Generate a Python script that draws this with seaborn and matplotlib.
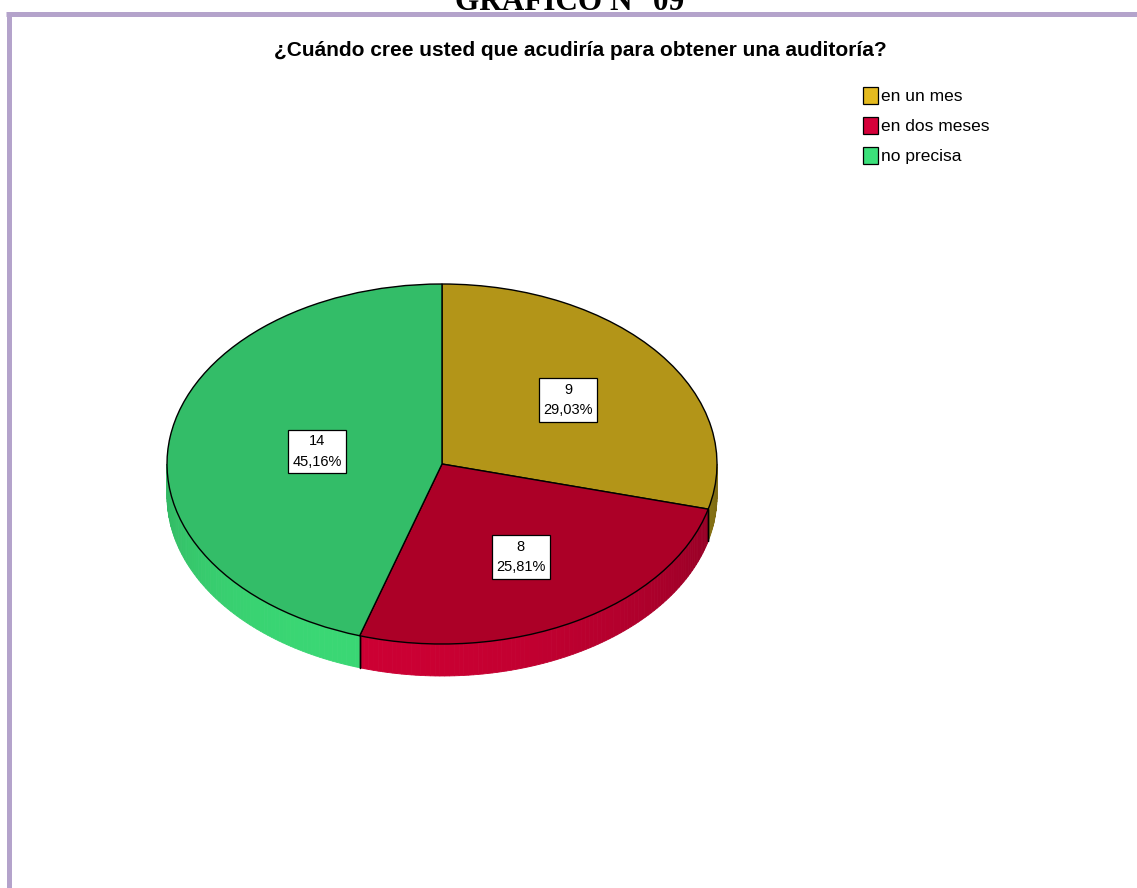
import numpy as np
import matplotlib
matplotlib.use('Agg')
import matplotlib.pyplot as plt
from matplotlib.patches import Patch
import seaborn as sns

# datos del grafico
categorias = ['en un mes', 'en dos meses', 'no precisa']
frecuencias = [9, 8, 14]
porcentajes = ['29,03%', '25,81%', '45,16%']
titulo = '¿Cuándo cree usted que acudiría para obtener una auditoría?'
encabezado = 'GRÁFICO N° 09'

# colores: cara superior, lateral (3D) y leyenda
color_sup = ['#B39518', '#AC0027', '#33BD68']
color_lado = ['#B89C1C', '#CC0033', '#3AD774']
color_leyenda = ['#E4BA1F', '#D5003A', '#3BE07A']
dist_etiqueta = [0.58, 0.59, 0.46]

sns.set_theme(style='white')
plt.rcParams['font.family'] = ['Liberation Sans Narrow', 'Liberation Sans', 'DejaVu Sans']
plt.rcParams['text.color'] = 'black'

W, H = 1137, 888
cx, cy, rx, ry, grosor = 442, 464, 275, 180, 32  # en pixeles

fig = plt.figure(figsize=(W / 100, H / 100), dpi=100)
ax = fig.add_axes([0, 0, 1, 1])

# cara superior
cunas, _ = ax.pie(frecuencias, colors=color_sup, startangle=90, counterclock=False,
                  radius=1, center=(0, 0),
                  wedgeprops=dict(edgecolor='black', linewidth=1.0, zorder=3))

# lateral del pastel (solo la mitad inferior es visible)
t = grosor / ry
total = sum(frecuencias)
fin = 90.0
for i, n in enumerate(frecuencias):
    ini = fin - n / total * 360
    a0, a1 = max(ini, -180), min(fin, 0)
    if a1 > a0:
        angs = np.linspace(a0, a1, int(a1 - a0) + 2)
        base = np.array(matplotlib.colors.to_rgb(color_lado[i]))
        for a, b in zip(angs[:-1], angs[1:]):
            m = np.radians((a + b) / 2)
            f = 0.76 + 0.24 * np.cos(m + np.radians(110))
            ra, rb = np.radians(a), np.radians(b)
            xs = [np.cos(ra), np.cos(rb), np.cos(rb), np.cos(ra)]
            ys = [np.sin(ra), np.sin(rb), np.sin(rb) - t, np.sin(ra) - t]
            ax.fill(xs, ys, color=np.clip(base * f, 0, 1), lw=0.6,
                    ec=np.clip(base * f, 0, 1), zorder=1)
    for borde in (ini, fin):
        if -180 < borde < 0:
            r = np.radians(borde)
            ax.plot([np.cos(r)] * 2, [np.sin(r), np.sin(r) - t], color='black', lw=1.0, zorder=2)
    # etiqueta
    m = np.radians((ini + fin) / 2)
    d = dist_etiqueta[i]
    ax.text(d * np.cos(m), d * np.sin(m), f'{n}\n{porcentajes[i]}', ha='center', va='center',
            fontsize=10.5, linespacing=1.6, zorder=5,
            bbox=dict(boxstyle='square,pad=0.3', fc='white', ec='black', lw=0.9))
    fin = ini

ax.set_xlim(-cx / rx, (W - cx) / rx)
ax.set_ylim(-(H - cy) / ry, cy / ry)
ax.set_aspect('auto')
ax.axis('off')

# titulo y encabezado cortado (como en el original)
fig.text(580 / W, 1 - 51 / H, titulo, ha='center', va='center', fontsize=15, fontweight='bold')
fig.text(570 / W, 1 - 10 / H, encabezado, ha='center', va='baseline', fontsize=22.5,
         fontweight='bold', family=['Liberation Serif', 'DejaVu Serif'])

# leyenda
manijas = [Patch(facecolor=c, edgecolor='black', linewidth=0.9) for c in color_leyenda]
fig.legend(manijas, categorias, loc='upper left', bbox_to_anchor=(863 / W, 1 - 87 / H),
           frameon=False, fontsize=12.5, handlelength=0.85, handleheight=1.15,
           handletextpad=0.2, labelspacing=0.72, borderpad=0, borderaxespad=0)

# marco morado
morado = '#B4A3CB'
fig.add_artist(plt.Line2D([8.5 / W, 8.5 / W], [0, 1 - 14 / H], color=morado, lw=3.6,
                          transform=fig.transFigure, solid_capstyle='butt'))
fig.add_artist(plt.Line2D([6 / W, 1], [1 - 14 / H, 1 - 14 / H], color=morado, lw=3.6,
                          transform=fig.transFigure, solid_capstyle='butt'))

fig.savefig('out.png', dpi=100)
